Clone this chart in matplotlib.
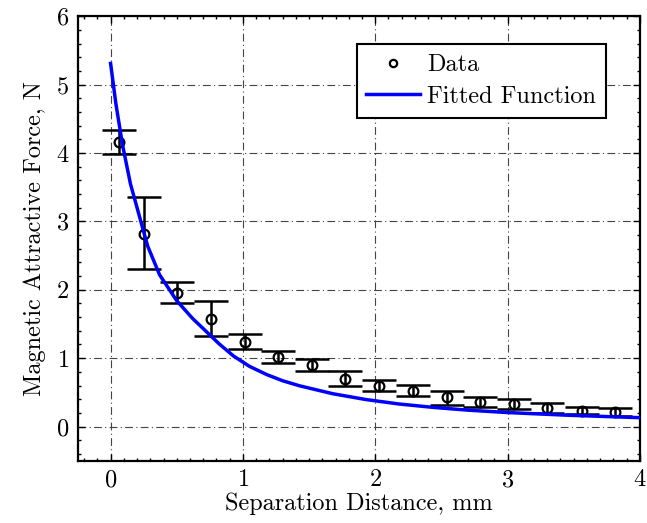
import numpy as np
import matplotlib
matplotlib.use('Agg')
import matplotlib.pyplot as plt
from matplotlib.ticker import MultipleLocator

plt.rcParams['font.family'] = 'cmr10'
plt.rcParams['mathtext.fontset'] = 'cm'
plt.rcParams['axes.formatter.use_mathtext'] = True

dist = [0.065, 0.25, 0.505, 0.757, 1.013, 1.265, 1.52, 1.774, 2.028, 2.285,
        2.54, 2.794, 3.048, 3.30, 3.56, 3.81]
force = [4.16, 2.82, 1.96, 1.58, 1.24, 1.02, 0.90, 0.70, 0.59, 0.52,
         0.43, 0.36, 0.33, 0.27, 0.226, 0.21]
err_hi = [4.34, 3.35, 2.11, 1.84, 1.35, 1.10, 0.99, 0.81, 0.68, 0.606,
          0.52, 0.435, 0.40, 0.35, 0.29, 0.275]
err_lo = [3.99, 2.30, 1.80, 1.32, 1.13, 0.93, 0.81, 0.59, 0.52, 0.445,
          0.32, 0.29, 0.26, 0.20, 0.18, 0.16]

# fitted curve
fit_x = [0.0, 0.04, 0.09, 0.15, 0.22, 0.28, 0.37, 0.5, 0.62, 0.75, 0.82, 0.93,
         1.05, 1.18, 1.3, 1.43, 1.68, 1.93, 2.18, 2.44, 2.7, 3.0, 3.44, 4.0]
fit_y = [5.31, 4.72, 4.12, 3.55, 3.06, 2.64, 2.22, 1.84, 1.58, 1.34, 1.21, 1.03,
         0.88, 0.76, 0.67, 0.595, 0.48, 0.395, 0.33, 0.28, 0.24, 0.205, 0.167, 0.13]

force = np.array(force)
yerr = [force - np.array(err_lo), np.array(err_hi) - force]

fig = plt.figure(figsize=(6.47, 5.23), dpi=100)
ax = fig.add_axes([0.1198, 0.119, 0.8692, 0.850])

ax.errorbar(dist, force, yerr=yerr, fmt='none', ecolor='black',
            elinewidth=1.8, capsize=12, capthick=1.8, zorder=3)
ax.plot(dist, force, 'o', mfc='none', mec='black', ms=7, mew=1.6,
        label='Data', zorder=4)
ax.plot(fit_x, fit_y, '-', color='#0000ff', lw=2.5, label='Fitted Function', zorder=5)

ax.set_xlim(-0.25, 4)
ax.set_ylim(-0.5, 6)
ax.xaxis.set_major_locator(MultipleLocator(1))
ax.xaxis.set_minor_locator(MultipleLocator(0.1))
ax.yaxis.set_major_locator(MultipleLocator(1))
ax.yaxis.set_minor_locator(MultipleLocator(0.2))

ax.grid(True, which='major', color='#444444', lw=0.8, linestyle=(0, (7, 3, 1, 3)), zorder=1)
ax.set_axisbelow(True)

ax.tick_params(which='both', direction='in', top=True, right=True, labelsize=17.5, width=1.0)
ax.tick_params(which='major', length=5, pad=6)
ax.tick_params(which='minor', length=2.5)
for s in ax.spines.values():
    s.set_linewidth(1.6)

ax.set_xlabel('Separation Distance, mm', fontsize=17.5, labelpad=1)
ax.set_ylabel('Magnetic Attractive Force, N', fontsize=17.5, labelpad=7)

leg = ax.legend(loc='upper right', bbox_to_anchor=(0.9396, 0.937), borderaxespad=0,
                fontsize=17.5, fancybox=False, framealpha=1, edgecolor='black',
                handlelength=2.2, handletextpad=0.3, borderpad=0.4, labelspacing=0.4,
                markerscale=0.75)
leg.get_frame().set_linewidth(1.5)

fig.savefig('out.png', dpi=100)
